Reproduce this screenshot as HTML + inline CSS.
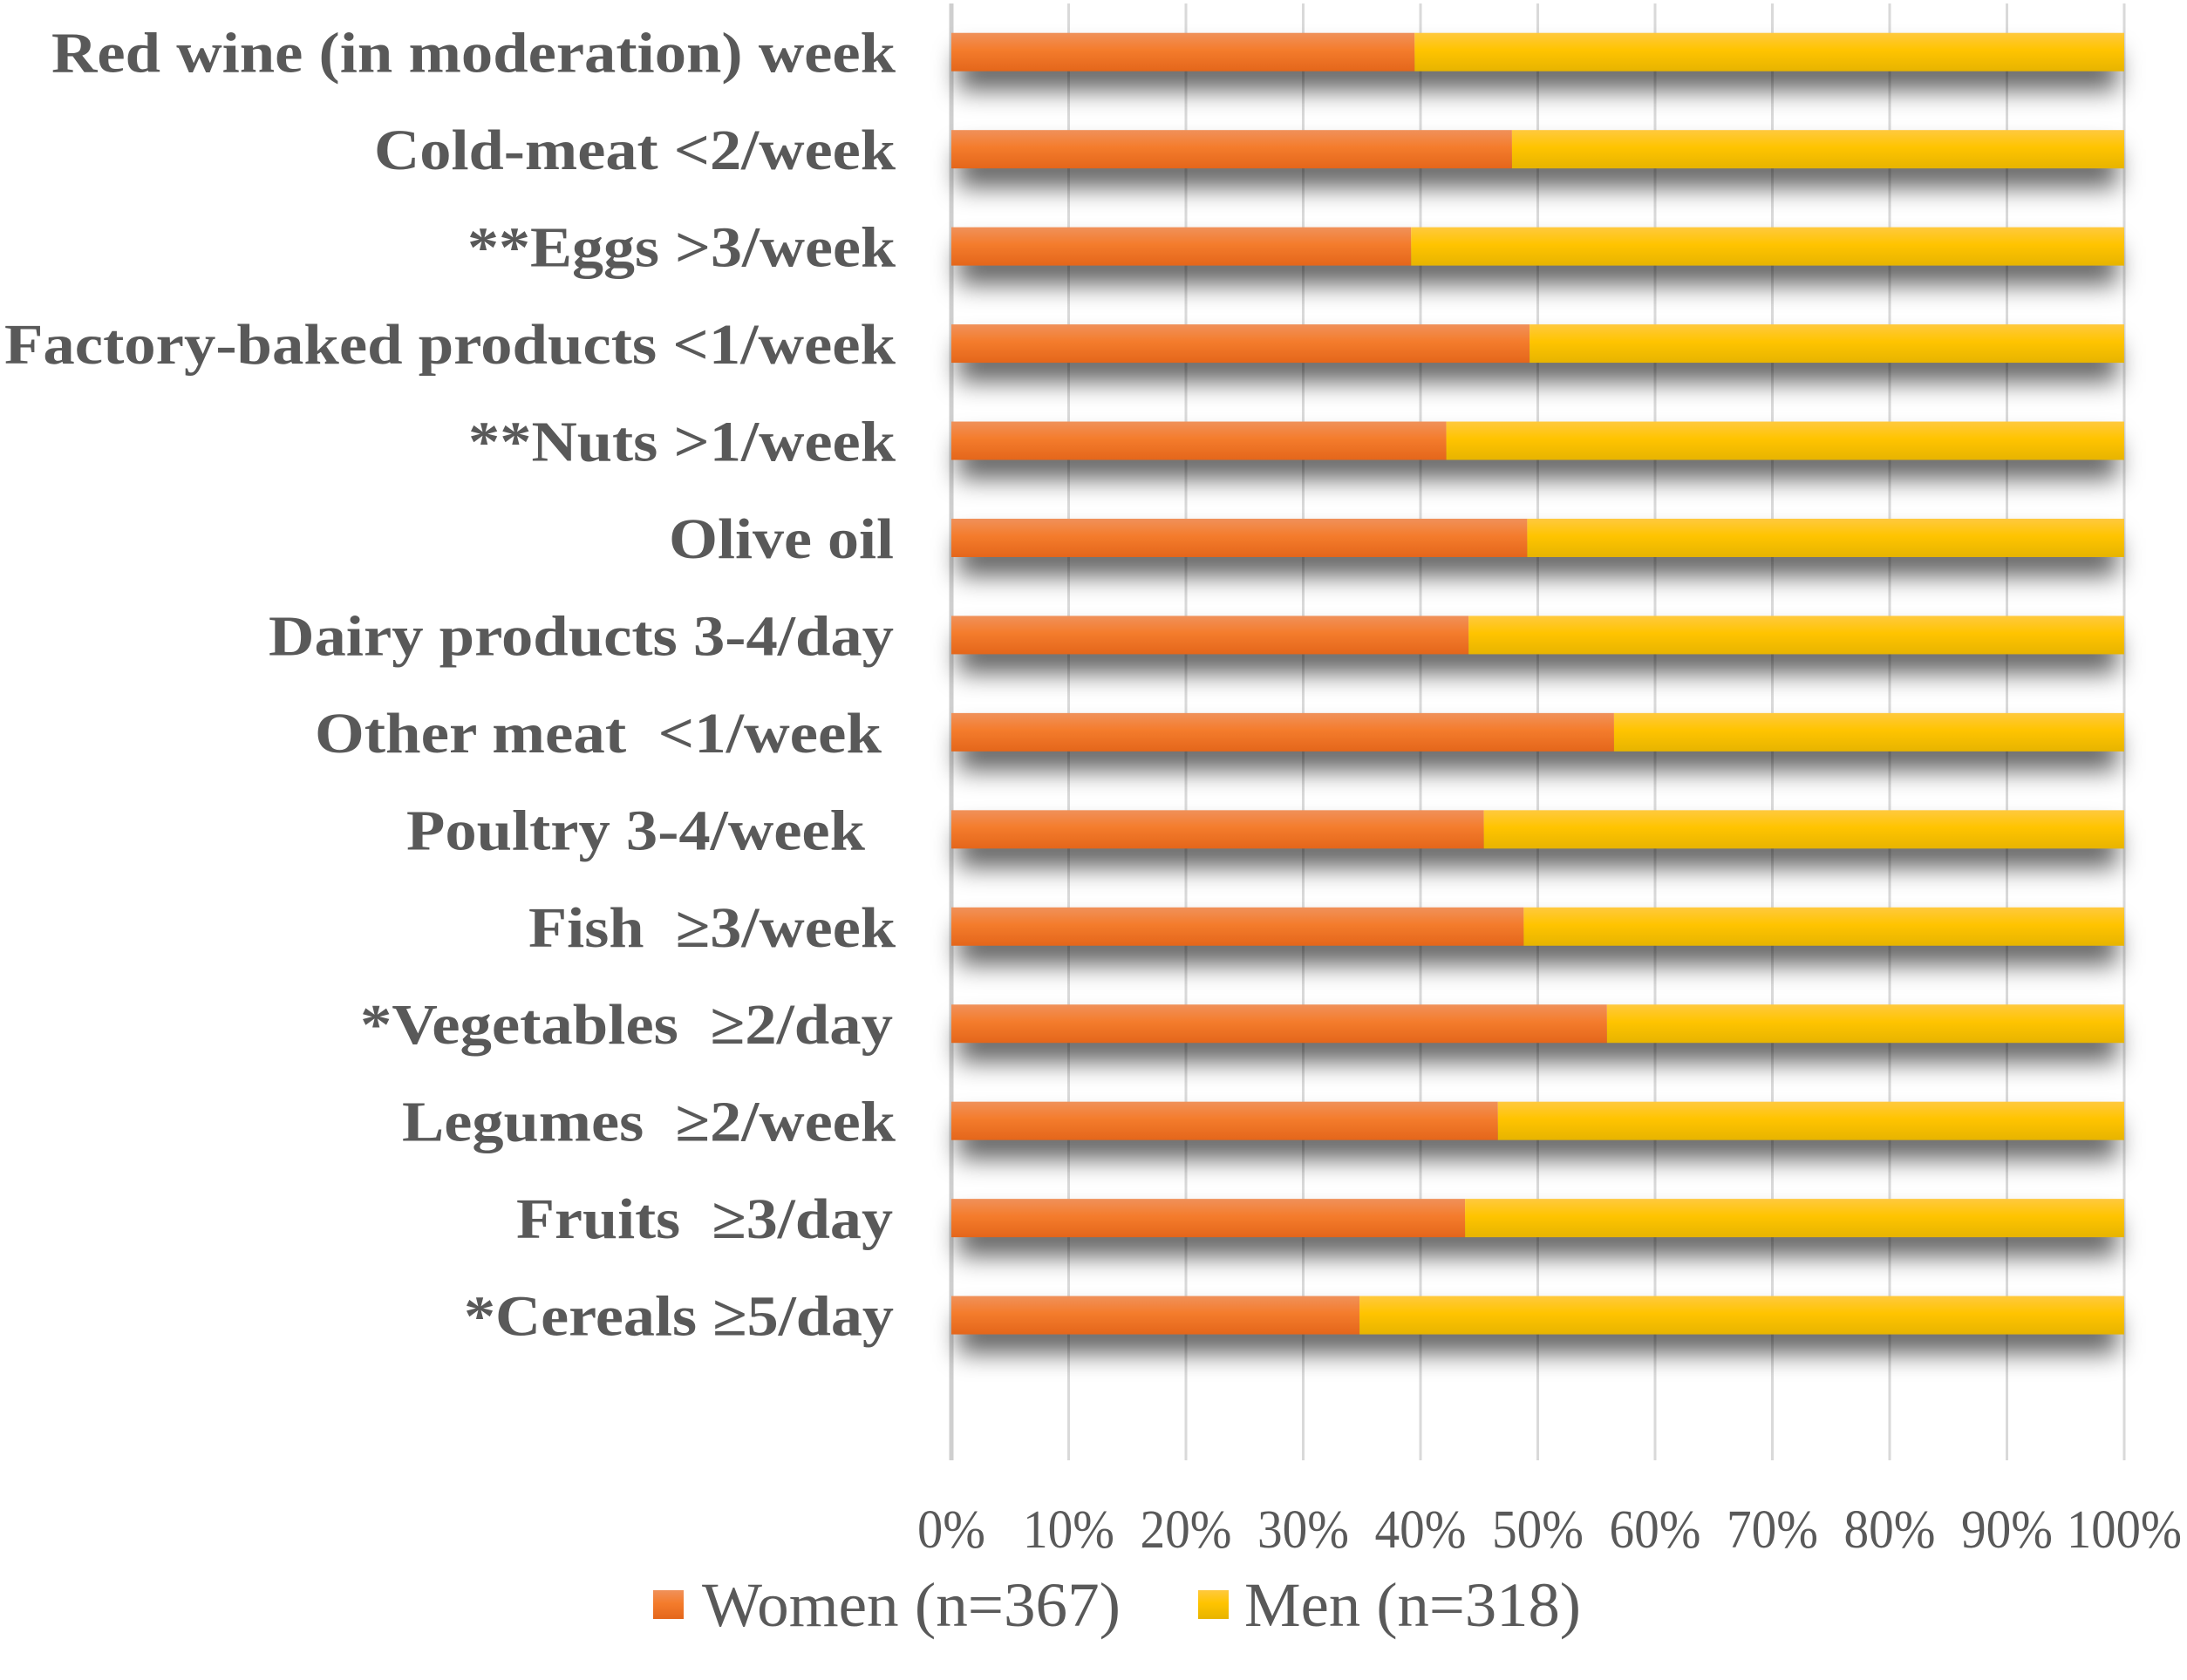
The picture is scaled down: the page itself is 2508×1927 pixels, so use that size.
<!DOCTYPE html>
<html><head><meta charset="utf-8"><style>
html,body{margin:0;padding:0;background:#fff;}
svg{display:block;}
#ylabels text{white-space:pre;}
</style></head><body>
<svg id="chart" width="2508" height="1927" viewBox="0 0 2508 1927" xmlns="http://www.w3.org/2000/svg">
<defs>
<linearGradient id="gW" x1="0" y1="0" x2="0" y2="1"><stop offset="0" stop-color="#f0915a"/><stop offset="0.45" stop-color="#f47c2c"/><stop offset="1" stop-color="#e4661b"/></linearGradient>
<linearGradient id="gM" x1="0" y1="0" x2="0" y2="1"><stop offset="0" stop-color="#ffc93e"/><stop offset="0.45" stop-color="#ffc400"/><stop offset="1" stop-color="#e7b400"/></linearGradient>
<filter id="sh" x="-5%" y="-150%" width="110%" height="400%"><feGaussianBlur stdDeviation="14"/></filter>
</defs>
<g id="grid"></g>
<g id="bars"></g>
<g id="ylabels"></g>
<g id="xlabels"></g>
<g>
  <g>
    <rect x="749" y="1824" width="35" height="33" fill="url(#gW)"/>
    <text x="805" y="1865" font-family="Liberation Serif, serif" font-size="72" fill="#595959" textLength="480" lengthAdjust="spacingAndGlyphs">Women (n=367)</text>
  </g>
  <g>
    <rect x="1374" y="1824" width="35" height="33" fill="url(#gM)"/>
    <text x="1427" y="1865" font-family="Liberation Serif, serif" font-size="72" fill="#595959" textLength="386" lengthAdjust="spacingAndGlyphs">Men (n=318)</text>
  </g>
</g>
</svg>
<script>
const categories = ["Red wine (in moderation) week","Cold-meat <2/week","**Eggs >3/week","Factory-baked products <1/week","**Nuts >1/week","Olive oil","Dairy products 3-4/day","Other meat  <1/week","Poultry 3-4/week","Fish  \u22653/week","*Vegetables  \u22652/day","Legumes  \u22652/week","Fruits  \u22653/day","*Cereals \u22655/day"];
const women = [39.5,47.8,39.2,49.3,42.2,49.1,44.1,56.5,45.4,48.8,55.9,46.6,43.8,34.8];
const men = [60.5,52.2,60.8,50.7,57.8,50.9,55.9,43.5,54.6,51.2,44.1,53.4,56.2,65.2];
const ticks = [0,10,20,30,40,50,60,70,80,90,100];
const tickLabels = ["0%","10%","20%","30%","40%","50%","60%","70%","80%","90%","100%"];
// layout (not data)
const labelRight = [1027,1027,1027,1027,1027,1025,1025,1011,992,1027,1024,1027,1024,1025];
const labelWidth = [968,598,491,1022,490,258,717,650,526,421,611,566,432,493];

const NS="http://www.w3.org/2000/svg";
const X0=1091, X1=2436, TOP=4, BOT=1675, BAND=111.45, BARH=44;
const xs=v=>X0+(X1-X0)*v/100;
const yc=i=>TOP+BAND*(i+0.5);
function mk(t,a,p){const e=document.createElementNS(NS,t);for(const k in a)e.setAttribute(k,a[k]);p.appendChild(e);return e;}
const grid=document.getElementById('grid'), bars=document.getElementById('bars'), yl=document.getElementById('ylabels'), xl=document.getElementById('xlabels');
ticks.forEach((t,i)=>{
  const l=mk('line',{x1:xs(t),x2:xs(t),y1:TOP,y2:BOT,stroke:i===0?'#cfcfcf':'#d9d9d9','stroke-width':i===0?5:3},grid);
  
  
  const s=tickLabels[i];
  const tx=mk('text',{x:xs(t),y:1775,'text-anchor':'middle','font-family':'Liberation Serif, serif','font-size':62,fill:'#595959',textLength:27*s.length+24,lengthAdjust:'spacingAndGlyphs'},xl);
  tx.textContent=s;
  
  
});
categories.forEach((c,i)=>{
  const y=yc(i)-BARH/2;
  const sh=mk('rect',{x:xs(0)+8,y:y+22,width:xs(women[i]+men[i])-xs(0)-16,height:BARH,fill:'#000','fill-opacity':0.6,filter:'url(#sh)'},bars);
  
  
  const w=mk('rect',{x:xs(0),y:y,width:xs(women[i])-xs(0),height:BARH,fill:'url(#gW)'},bars);
  
  
  const m=mk('rect',{x:xs(women[i]),y:y,width:xs(women[i]+men[i])-xs(women[i]),height:BARH,fill:'url(#gM)'},bars);
  
  
  const t=mk('text',{x:labelRight[i],y:yc(i)+23,'text-anchor':'end','font-family':'Liberation Serif, serif','font-weight':'bold','font-size':66,fill:'#595959',textLength:labelWidth[i],lengthAdjust:'spacingAndGlyphs'},yl);
  t.textContent=c;
  
  
});
</script>
</body></html>
